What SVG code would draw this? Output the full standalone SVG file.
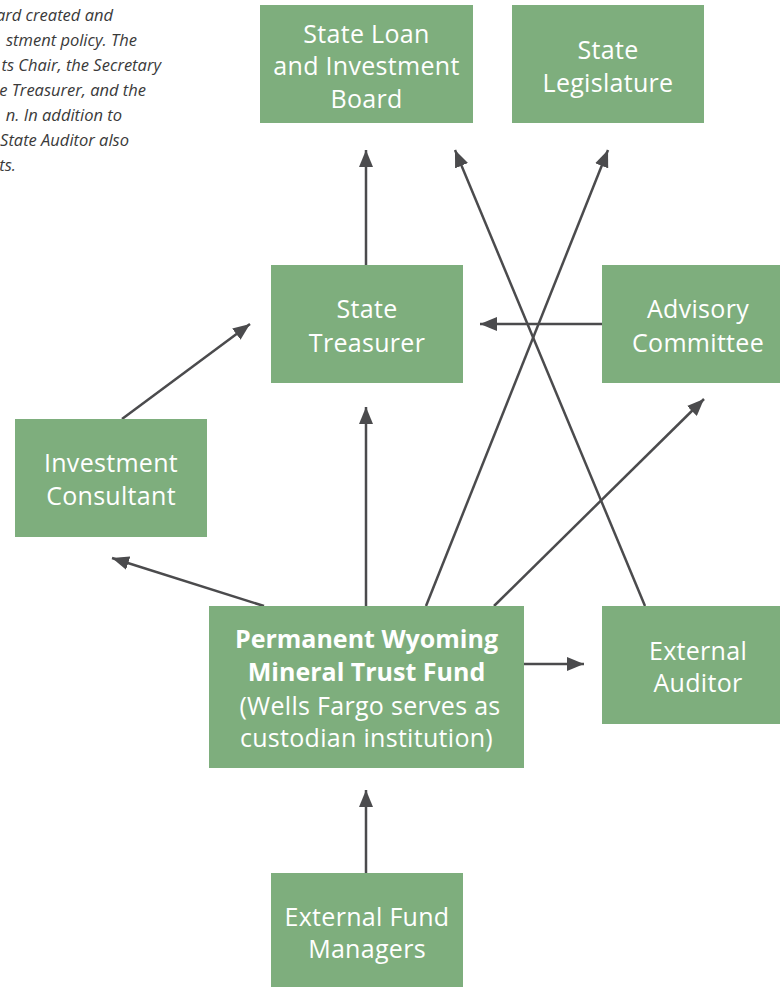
<svg xmlns="http://www.w3.org/2000/svg" width="780" height="987" viewBox="0 0 780 987">
<defs>
<style>
.box{fill:#7eae7d}
.lbl{font-family:"Open Sans","Noto Sans","DejaVu Sans",sans-serif;font-size:25px;fill:#ffffff;text-anchor:middle;letter-spacing:0.3px}
.b{font-weight:bold;letter-spacing:0}
.note{font-family:"Open Sans","Noto Sans","DejaVu Sans",sans-serif;font-size:16.5px;font-style:italic;fill:#3a3a3a;text-anchor:end}
.con{stroke:#4b4b4d;stroke-width:2.5;fill:none;marker-end:url(#arr)}
</style>
<marker id="arr" markerUnits="userSpaceOnUse" viewBox="0 0 17 14" refX="17" refY="7" markerWidth="17" markerHeight="14" orient="auto">
<path d="M0,0 L17,7 L0,14 Z" fill="#4b4b4d"/>
</marker>
</defs>
<rect width="780" height="987" fill="#ffffff"/>
<g id="note">
<text class="note" x="113" y="21">ard created and</text>
<text class="note" x="137" y="46">stment policy. The</text>
<text class="note" x="161" y="71">ts Chair, the Secretary</text>
<text class="note" x="146" y="96">e Treasurer, and the</text>
<text class="note" x="122" y="121">n. In addition to</text>
<text class="note" x="129" y="146">State Auditor also</text>
<text class="note" x="16" y="171">ts.</text>
</g>
<g id="connectors">
<line class="con" x1="366" y1="265" x2="366" y2="150"/>
<line class="con" x1="645" y1="606" x2="455" y2="150"/>
<line class="con" x1="426" y1="606" x2="608" y2="150"/>
<line class="con" x1="602" y1="324" x2="480" y2="324"/>
<line class="con" x1="122" y1="419" x2="250" y2="324"/>
<line class="con" x1="264" y1="606" x2="112" y2="558"/>
<line class="con" x1="366" y1="606" x2="366" y2="407"/>
<line class="con" x1="494" y1="606" x2="704" y2="399"/>
<line class="con" x1="524" y1="664" x2="584" y2="664"/>
<line class="con" x1="366" y1="873" x2="366" y2="790"/>
</g>
<g id="board">
<rect class="box" x="260" y="5" width="213" height="118"/>
<text class="lbl" x="366.5" y="43">State Loan</text>
<text class="lbl" x="366.5" y="75">and Investment</text>
<text class="lbl" x="366.5" y="108">Board</text>
</g>
<g id="legislature">
<rect class="box" x="512" y="5" width="192" height="118"/>
<text class="lbl" x="608" y="59">State</text>
<text class="lbl" x="608" y="92">Legislature</text>
</g>
<g id="treasurer">
<rect class="box" x="271" y="265" width="192" height="118"/>
<text class="lbl" x="367" y="318">State</text>
<text class="lbl" x="367" y="352">Treasurer</text>
</g>
<g id="advisory">
<rect class="box" x="602" y="265" width="192" height="118"/>
<text class="lbl" x="698" y="318">Advisory</text>
<text class="lbl" x="698" y="352">Committee</text>
</g>
<g id="consultant">
<rect class="box" x="15" y="419" width="192" height="118"/>
<text class="lbl" x="111" y="472">Investment</text>
<text class="lbl" x="111" y="505">Consultant</text>
</g>
<g id="fund">
<rect class="box" x="209" y="606" width="315" height="162"/>
<text class="lbl b" x="366.5" y="648">Permanent Wyoming</text>
<text class="lbl b" x="366.5" y="681">Mineral Trust Fund</text>
<text class="lbl" x="370" y="715">(Wells Fargo serves as</text>
<text class="lbl" x="366.5" y="747">custodian institution)</text>
</g>
<g id="auditor">
<rect class="box" x="602" y="606" width="192" height="118"/>
<text class="lbl" x="698" y="660">External</text>
<text class="lbl" x="698" y="692">Auditor</text>
</g>
<g id="managers">
<rect class="box" x="271" y="873" width="192" height="118"/>
<text class="lbl" x="367" y="926">External Fund</text>
<text class="lbl" x="367" y="958">Managers</text>
</g>
</svg>
